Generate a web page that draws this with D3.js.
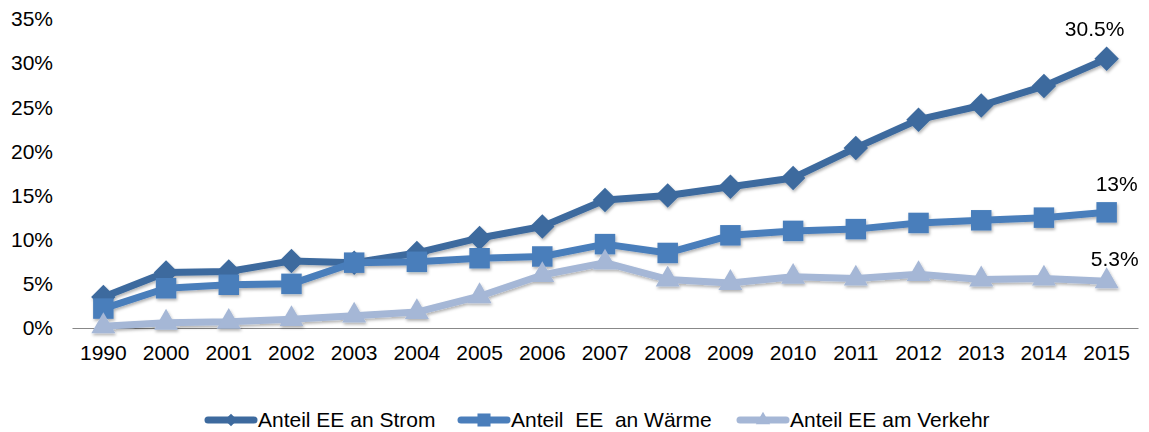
<!DOCTYPE html>
<html>
<head>
<meta charset="utf-8">
<script src="https://cdn.jsdelivr.net/npm/d3@7"></script>
<style>
  body { margin: 0; background: #fff; }
  text { font-family: "Liberation Sans", Arial, sans-serif; fill: #000; }
</style>
</head>
<body>
<div id="chart"></div>
<script>
var width = 1149, height = 432;
var margin = {top: 19, right: 11, bottom: 104, left: 72};

// categories
var years = ["1990","2000","2001","2002","2003","2004","2005","2006","2007","2008","2009","2010","2011","2012","2013","2014","2015"];
// series values (percent)
var strom   = [3.5, 6.3, 6.4, 7.6, 7.4, 8.5, 10.2, 11.5, 14.5, 15.0, 16.0, 17.0, 20.4, 23.6, 25.2, 27.4, 30.5];
var waerme  = [2.2, 4.5, 4.9, 5.0, 7.4, 7.5, 7.9, 8.1, 9.5, 8.5, 10.5, 11.0, 11.2, 11.9, 12.2, 12.5, 13.1];
var verkehr = [0.2, 0.6, 0.7, 1.0, 1.4, 1.8, 3.6, 6.0, 7.4, 5.5, 5.1, 5.8, 5.6, 6.1, 5.5, 5.6, 5.3];
var yTicks = [0, 5, 10, 15, 20, 25, 30, 35];
var seriesNames = ["Anteil EE an Strom", "Anteil  EE  an Wärme", "Anteil EE am Verkehr"];
var endLabels = ["30.5%", "13%", "5.3%"];

var series = [
  {name: seriesNames[0], values: strom, color: "#3d6a9e", symbol: d3.symbolSquare, rot: 45, size: 300, lsize: 80, label: endLabels[0]},
  {name: seriesNames[1], values: waerme, color: "#4a7ebb", symbol: d3.symbolSquare, rot: 0, size: 420, lsize: 170, label: endLabels[1]},
  {name: seriesNames[2], values: verkehr, color: "#a5b7d6", symbol: d3.symbolTriangle, rot: 0, size: 250, lsize: 90, label: endLabels[2]}
];

var svg = d3.select("#chart").append("svg")
    .attr("width", width)
    .attr("height", height);

var defs = svg.append("defs");
var f = defs.append("filter").attr("id", "shadow")
    .attr("x", "-20%").attr("y", "-20%").attr("width", "140%").attr("height", "160%");
f.append("feDropShadow").attr("dx", 1).attr("dy", 2).attr("stdDeviation", 1.5)
    .attr("flood-color", "#000").attr("flood-opacity", 0.3);

var x = d3.scaleBand()
    .domain(years)
    .range([margin.left, 1138]);

var y = d3.scaleLinear()
    .domain([0, 35])
    .range([328, margin.top]);

// y axis labels
svg.append("g").selectAll("text")
    .data(yTicks)
  .enter().append("text")
    .attr("x", 53)
    .attr("y", function(d) { return y(d); })
    .attr("dy", "0.35em")
    .attr("text-anchor", "end")
    .style("font-size", "21px")
    .text(function(d) { return d + "%"; });

// x axis
var xAxis = svg.append("g")
    .attr("transform", "translate(0," + y(0) + ")")
    .call(d3.axisBottom(x).tickSize(0).tickPadding(17));
xAxis.select(".domain").attr("stroke", "#888").attr("stroke-width", 1.2);
xAxis.selectAll("text")
    .style("font-size", "21px")
    .style("font-family", "Liberation Sans, Arial, sans-serif");

var line = d3.line()
    .x(function(d, i) { return x(years[i]) + x.bandwidth() / 2; })
    .y(function(d) { return y(d); });

var g = svg.append("g").attr("filter", "url(#shadow)");

series.forEach(function(s) {
  var sg = g.append("g");
  sg.append("path")
      .datum(s.values)
      .attr("fill", "none")
      .attr("stroke", s.color)
      .attr("stroke-width", 7)
      .attr("stroke-linejoin", "round")
      .attr("d", line);
  sg.selectAll("path.marker")
      .data(s.values)
    .enter().append("path")
      .attr("class", "marker")
      .attr("fill", s.color)
      .attr("transform", function(d, i) {
        return "translate(" + (x(years[i]) + x.bandwidth() / 2) + "," + y(d) + ") rotate(" + s.rot + ")";
      })
      .attr("d", d3.symbol().type(s.symbol).size(s.size));
});

// end labels
var last = years.length - 1;
var labelPos = [
  {dx: -12, dy: -30},
  {dx: 10, dy: -29},
  {dx: 8, dy: -23}
];
series.forEach(function(s, k) {
  svg.append("text")
      .attr("x", x(years[last]) + x.bandwidth() / 2 + labelPos[k].dx)
      .attr("y", y(s.values[last]) + labelPos[k].dy)
      .attr("dy", "0.35em")
      .attr("text-anchor", "middle")
      .style("font-size", "21px")
      .text(s.label);
});

// legend
var legendX = [205, 458, 737];
var legend = svg.append("g").attr("transform", "translate(0,420)");
series.forEach(function(s, k) {
  var lg = legend.append("g").attr("transform", "translate(" + legendX[k] + ",0)");
  lg.append("line")
      .attr("x1", 3).attr("x2", 49)
      .attr("stroke", s.color)
      .attr("stroke-width", 7)
      .attr("stroke-linecap", "round");
  lg.append("path")
      .attr("fill", s.color)
      .attr("transform", "translate(26,0) rotate(" + s.rot + ")")
      .attr("d", d3.symbol().type(s.symbol).size(s.lsize));
  lg.append("text")
      .attr("x", 53)
      .attr("dy", "0.35em")
      .attr("xml:space", "preserve")
      .style("white-space", "pre")
      .style("font-size", "21px")
      .text(s.name);
});
</script>
</body>
</html>
